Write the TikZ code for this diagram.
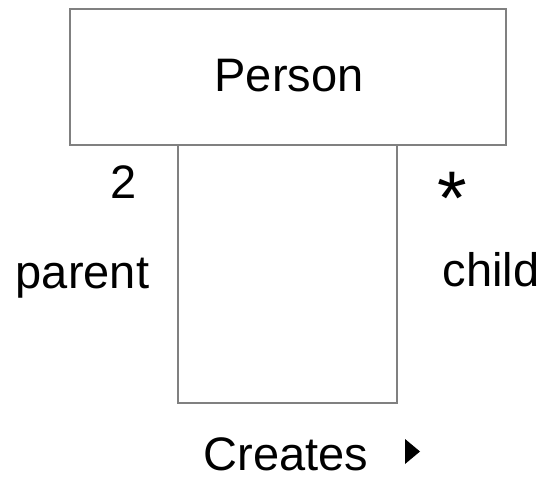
\documentclass[tikz,border=0pt]{standalone}
\usepackage{fontspec}
\setmainfont{Liberation Sans}
\begin{document}
\begin{tikzpicture}[x=1pt,y=-1pt,
  umlline/.style={draw=black!50, line width=1.8pt},
  lbl/.style={font=\fontsize{47}{50}\selectfont, inner sep=0pt, anchor=base}]
\useasboundingbox (0,0) rectangle (547,484);
% class box
\node[umlline, minimum width=436pt, minimum height=136pt, inner sep=0pt] (person) at (288,77) {};
\node[lbl] (name) at (289,92) {Person};
% self-association loop
\coordinate (la) at (178,145);
\coordinate (lb) at (397,145);
\draw[umlline] (la) |- (397,403) -- (lb);
% association end labels
\node[lbl] (m1) at (124,199) {2};
\node[lbl, font=\fontsize{76}{78}\selectfont] (m2) at (452,225) {*};
\node[lbl] (r1) at (82.5,288) {parent};
\node[lbl] (r2) at (491,287) {child};
% association name with reading direction
\node[lbl] (assoc) at (286,470) {Creates};
\fill (405,439) -- (420,451.5) -- (405,464) -- cycle;
\end{tikzpicture}
\end{document}
